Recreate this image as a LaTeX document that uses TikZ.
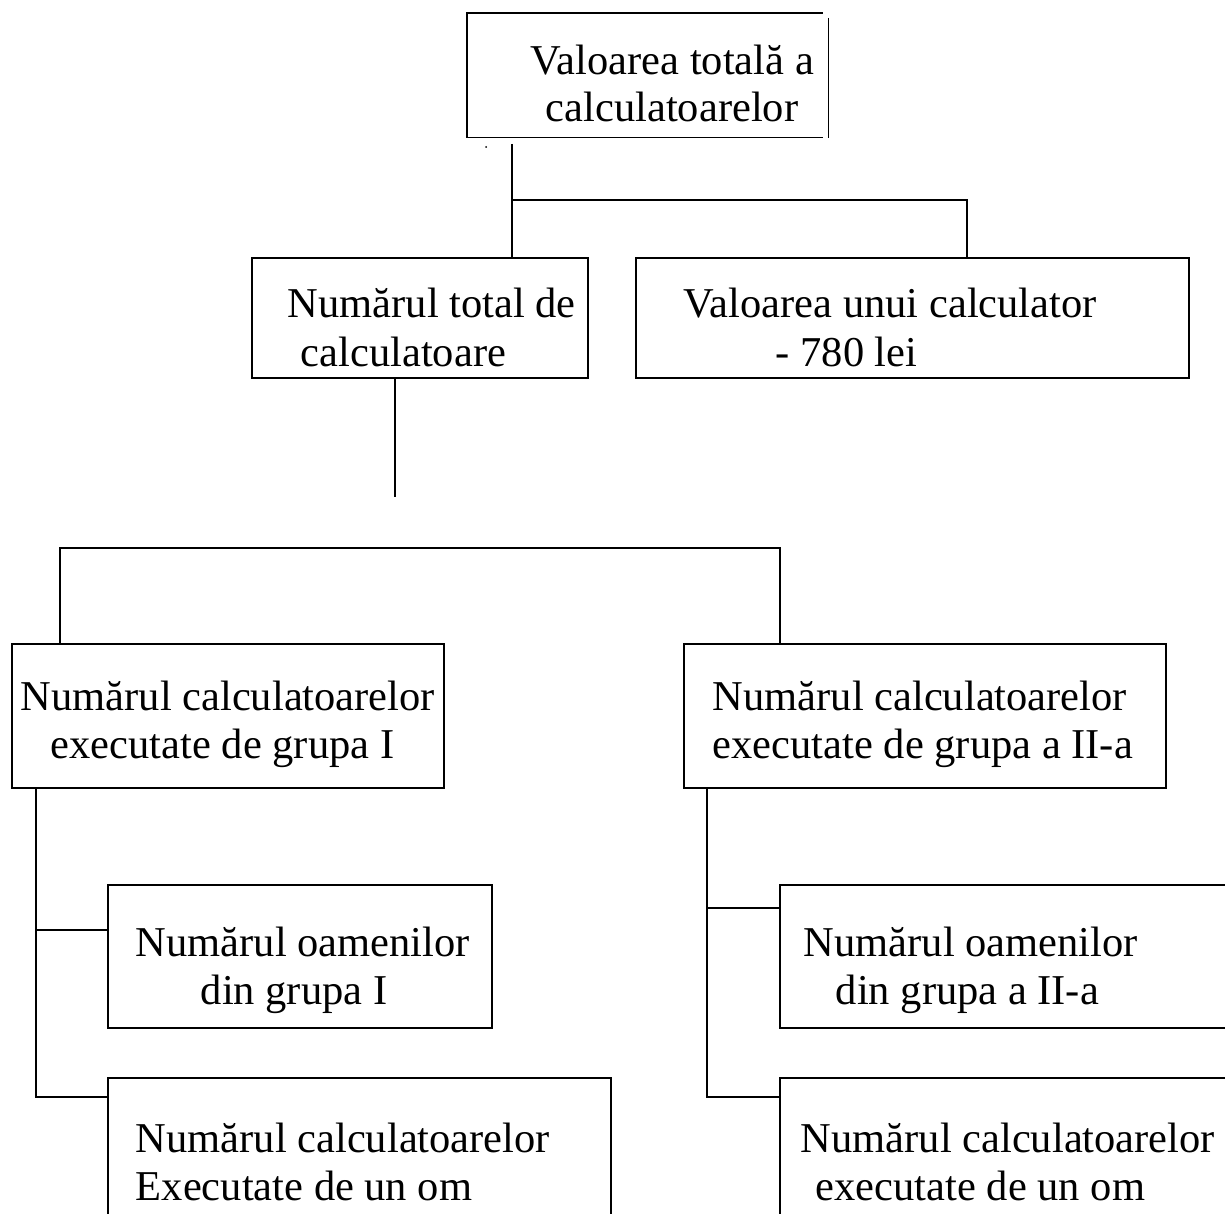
\documentclass[tikz,border=0pt]{standalone}
\usepackage{fontspec}
\setmainfont{Liberation Serif}
\begin{document}
\begin{tikzpicture}[x=1pt,y=-1pt,line width=1.6pt,
  box/.style={draw, rectangle, inner sep=0pt, anchor=north west, line width=1.6pt},
  txt/.style={inner sep=0pt, anchor=base west, font=\fontsize{42.5}{48}\selectfont}]
\useasboundingbox (0,0) rectangle (1225,1214);
\clip (0,0) rectangle (1225,1214);
% boxes
\node[box, draw=none, minimum width=354pt, minimum height=123pt] (top) at (467,13) {};
\draw (top.north east) -- (top.north west) -- (top.south west) -- (top.south east);
\draw ([xshift=6pt,yshift=-5pt]top.north east) -- ([xshift=6pt]top.south east);
\node[box, minimum width=336pt, minimum height=120pt] (tot) at (251,257) {};
\node[box, minimum width=553pt, minimum height=120pt] (val) at (635,257) {};
\node[box, minimum width=432pt, minimum height=144pt] (g1) at (11,643) {};
\node[box, minimum width=482pt, minimum height=144pt] (g2) at (683,643) {};
\node[box, minimum width=384pt, minimum height=143pt] (o1) at (107,884) {};
\node[box, minimum width=503pt, minimum height=200pt] (c1) at (107,1077) {};
\node[box, minimum width=500pt, minimum height=143pt] (o2) at (779,884) {};
\node[box, minimum width=500pt, minimum height=200pt] (c2) at (779,1077) {};
% texts
\node[txt] (t1a) at (530,75) {Valoarea totală a};
\node[txt] (t1b) at (545,122) {calculatoarelor};
\node[txt] (t2a) at (287,318) {Numărul total de};
\node[txt] (t2b) at (300,366) {calculatoare};
\node[txt] (t3a) at (683,318) {Valoarea unui calculator};
\node[txt] (t3b) at (775,366) {- 780 lei};
\node[txt] (t4a) at (20,710) {Numărul calculatoarelor};
\node[txt] (t4b) at (50,758) {executate de grupa I};
\node[txt] (t5a) at (712,710) {Numărul calculatoarelor};
\node[txt] (t5b) at (712,758) {executate de grupa a II-a};
\node[txt] (t6a) at (135,956) {Numărul oamenilor};
\node[txt] (t6b) at (200,1004) {din grupa I};
\node[txt] (t7a) at (135,1152) {Numărul calculatoarelor};
\node[txt] (t7b) at (135,1200) {Executate de un om};
\node[txt] (t8a) at (803,956) {Numărul oamenilor};
\node[txt] (t8b) at (835,1004) {din grupa a II-a};
\node[txt] (t9a) at (800,1152) {Numărul calculatoarelor};
\node[txt] (t9b) at (815,1200) {executate de un om};
% stray dot
\fill (486,147) circle (1pt);
% connectors
\coordinate (j0) at (512,144);
\coordinate (j1) at (512,200);
\coordinate (j2) at (967,200);
\draw (j0) -- (j0 |- tot.north);
\draw (j1) -- (j2) -- (j2 |- val.north);
\coordinate (k0) at (395,497);
\draw (k0 |- tot.south) -- (k0);
\coordinate (k1) at (60,548);
\coordinate (k2) at (780,548);
\draw (k1 |- g1.north) -- (k1) -- (k2) -- (k2 |- g2.north);
\coordinate (l1) at (36,930);
\coordinate (l2) at (36,1097);
\draw (l1 |- g1.south) -- (l2) -- (l2 -| c1.west);
\draw (l1) -- (l1 -| o1.west);
\coordinate (r1) at (707,908);
\coordinate (r2) at (707,1097);
\draw (r1 |- g2.south) -- (r2) -- (r2 -| c2.west);
\draw (r1) -- (r1 -| o2.west);
\end{tikzpicture}
\end{document}
